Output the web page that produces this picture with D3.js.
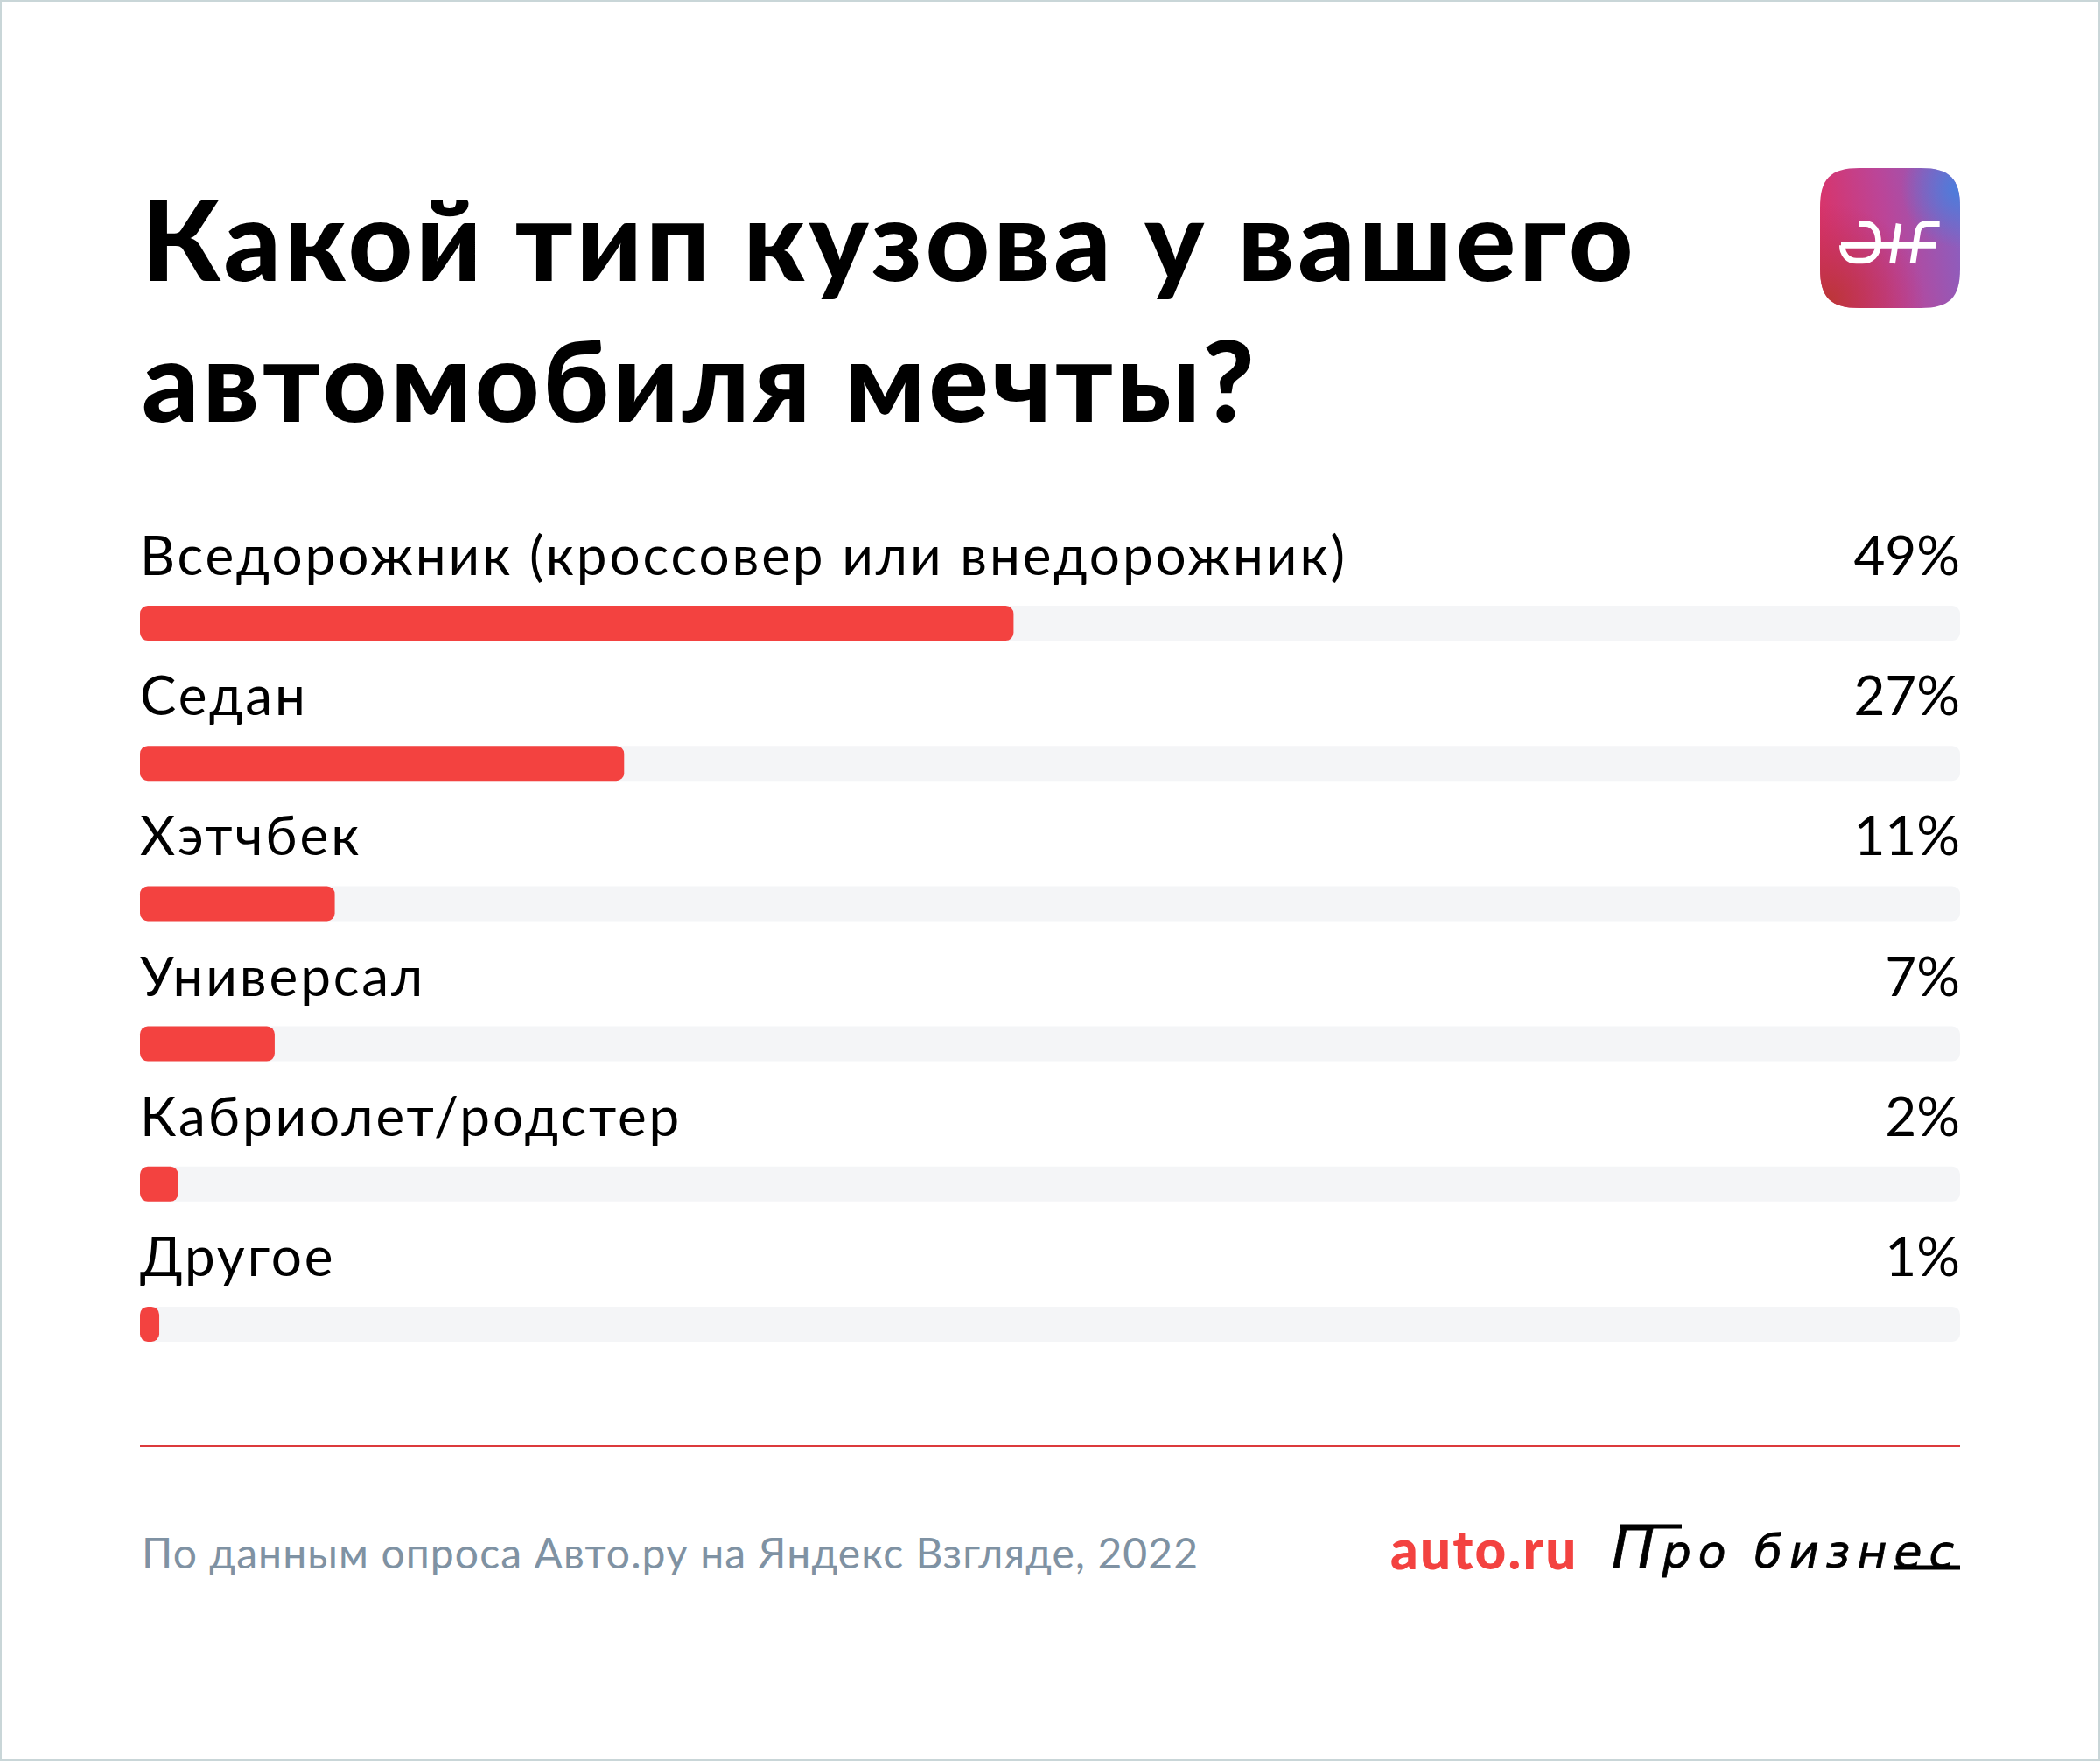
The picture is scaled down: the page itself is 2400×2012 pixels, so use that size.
<!DOCTYPE html>
<html>
<head>
<meta charset="utf-8">
<style>
  html, body { margin: 0; padding: 0; background: #fff; }
  svg { display: block; }
  text { font-family: "Lato", "Noto Sans", sans-serif; }
  text.pro-logo { font-family: "DejaVu Sans", sans-serif; font-style: italic; }
</style>
</head>
<body>
<script src="https://cdn.jsdelivr.net/npm/d3@7"></script>
<script>
const categories = ["Вседорожник (кроссовер или внедорожник)", "Седан", "Хэтчбек", "Универсал", "Кабриолет/родстер", "Другое"];
// printed percentages
const percentLabels = [49, 27, 11, 7, 2, 1];
// bar lengths as measured on the picture, % of the grey track (not quite the printed numbers)
const barLengths = [48, 26.6, 10.7, 7.4, 2.1, 1.06];
const titleLines = ["Какой тип кузова у вашего", "автомобиля мечты?"];
const sourceText = "По данным опроса Авто.ру на Яндекс Взгляде, 2022";

const width = 2400, height = 2012;
const left = 160, right = 2240;

const svg = d3.select("body").append("svg")
  .attr("width", width)
  .attr("height", height);

// outer frame
svg.append("rect")
  .attr("x", 1).attr("y", 1)
  .attr("width", width - 2).attr("height", height - 2)
  .attr("fill", "#fff")
  .attr("stroke", "#c9d6d8")
  .attr("stroke-width", 2);

const xScale = d3.scaleLinear().domain([0, 100]).range([left, right]);
const yScale = d3.scaleBand().domain(categories).range([692, 1533]).paddingInner(0.75);

// title
svg.append("g").selectAll("text")
  .data(titleLines)
  .enter()
  .append("text")
  .attr("x", 162)
  .attr("y", (d, i) => 321 + i * 161)
  .attr("font-size", 128)
  .attr("font-weight", 900)
  .attr("letter-spacing", 4)
  .attr("fill", "#000")
  .text(d => d);

// grey tracks
svg.append("g").selectAll("rect")
  .data(categories)
  .enter()
  .append("rect")
  .attr("x", xScale(0))
  .attr("y", d => yScale(d))
  .attr("width", xScale(100) - xScale(0))
  .attr("height", yScale.bandwidth())
  .attr("rx", 9)
  .attr("fill", "#f4f5f7");

// red bars
svg.append("g").selectAll("rect")
  .data(barLengths)
  .enter()
  .append("rect")
  .attr("x", xScale(0))
  .attr("y", (d, i) => yScale(categories[i]))
  .attr("width", d => xScale(d) - xScale(0))
  .attr("height", yScale.bandwidth())
  .attr("rx", 9)
  .attr("fill", "#f34240");

// category names
svg.append("g").selectAll("text")
  .data(categories)
  .enter()
  .append("text")
  .attr("x", 160)
  .attr("y", d => yScale(d) - 35)
  .attr("font-size", 62)
  .attr("letter-spacing", 2.9)
  .attr("fill", "#000")
  .text(d => d);

// percent labels
svg.append("g").selectAll("text")
  .data(percentLabels)
  .enter()
  .append("text")
  .attr("x", 2240)
  .attr("y", (d, i) => yScale(categories[i]) - 35)
  .attr("text-anchor", "end")
  .attr("font-size", 62)
  .attr("fill", "#000")
  .text(d => d + "%");

// divider
svg.append("line")
  .attr("x1", left).attr("x2", right)
  .attr("y1", 1652).attr("y2", 1652)
  .attr("stroke", "#dc3a3c")
  .attr("stroke-width", 2);

// source
svg.append("text")
  .attr("x", 162)
  .attr("y", 1792)
  .attr("font-size", 48)
  .attr("letter-spacing", 1.1)
  .attr("fill", "#7f92a3")
  .text(sourceText);

// logos
svg.append("text")
  .attr("x", 1589)
  .attr("y", 1793)
  .attr("font-size", 62)
  .attr("font-weight", 900)
  .attr("letter-spacing", 2.2)
  .attr("fill", "#f34240")
  .text("auto.ru");

const proLogo = svg.append("text")
  .attr("class", "pro-logo")
  .attr("x", 1842)
  .attr("y", 1791)
  .attr("font-size", 52)
  .attr("letter-spacing", 8)
  .attr("fill", "#000")
  .attr("stroke", "#000")
  .attr("stroke-width", 0.8);
proLogo.append("tspan").attr("font-size", 66).text("П");
proLogo.append("tspan").text("ро бизнес");

// app icon
const defs = svg.append("defs");
const base = defs.append("linearGradient").attr("id", "iconBase")
  .attr("x1", 0).attr("y1", 0.6).attr("x2", 1).attr("y2", 0.4);
base.append("stop").attr("offset", 0).attr("stop-color", "#dc3264");
base.append("stop").attr("offset", 0.5).attr("stop-color", "#bb4598");
base.append("stop").attr("offset", 1).attr("stop-color", "#8a5fc0");
const blue = defs.append("radialGradient").attr("id", "iconBlue")
  .attr("cx", 1).attr("cy", 0.15).attr("r", 0.42);
blue.append("stop").attr("offset", 0).attr("stop-color", "#4a7edc");
blue.append("stop").attr("offset", 1).attr("stop-color", "#4a7edc").attr("stop-opacity", 0);
const dark = defs.append("radialGradient").attr("id", "iconDark")
  .attr("cx", 0.05).attr("cy", 0.95).attr("r", 0.7);
dark.append("stop").attr("offset", 0).attr("stop-color", "#bb3636");
dark.append("stop").attr("offset", 1).attr("stop-color", "#bb2c60").attr("stop-opacity", 0);

const squircle = "M45 0 L115 0 C148 0 160 12 160 45 L160 115 C160 148 148 160 115 160 L45 160 C12 160 0 148 0 115 L0 45 C0 12 12 0 45 0 Z";
const icon = svg.append("g").attr("transform", "translate(2080,192)");
["iconBase", "iconDark", "iconBlue"].forEach(id => {
  icon.append("path").attr("d", squircle).attr("fill", `url(#${id})`);
});
svg.append("path")
  .attr("transform", "translate(2000,165) scale(0.3333)")
  .attr("fill", "none")
  .attr("stroke", "#fff")
  .attr("stroke-width", 20)
  .attr("d", "M312 346 L638 346 M372 272 L395 272 C425 272 440 300 440 338 C440 378 415 399 385 399 L365 399 C335 399 316 376 316 346 M510 272 L488 407 M650 272 L605 272 C585 272 578 285 575 300 L558 407");

// logo flourishes, the long strokes of the lettering
svg.append("path")
  .attr("fill", "none")
  .attr("stroke", "#000")
  .attr("stroke-width", 5)
  .attr("d", "M2165 1791 L2240 1791 M1852 1744 L1922 1744");
</script>
</body>
</html>
